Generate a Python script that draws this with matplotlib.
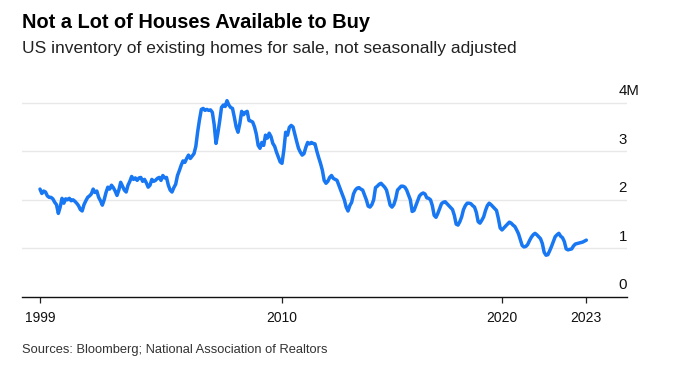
import matplotlib
matplotlib.use("Agg")
import matplotlib.pyplot as plt
import matplotlib.transforms as mtransforms
import numpy as np

# Monthly US inventory of existing homes for sale (millions), Jan 1999 onward
inventory_m = [
    2.22, 2.13, 2.18, 2.16, 2.08, 2.05, 2.05, 2.02, 1.95, 1.90, 1.72, 1.85,  # 1999
    2.03, 1.93, 2.02, 2.00, 2.03, 1.98, 2.00, 1.97, 1.93, 1.88, 1.80, 1.77,  # 2000
    1.90, 1.98, 2.05, 2.08, 2.12, 2.22, 2.15, 2.18, 2.05, 1.98, 1.89, 2.00,  # 2001
    2.15, 2.26, 2.22, 2.30, 2.25, 2.18, 2.09, 2.20, 2.36, 2.28, 2.20, 2.16,  # 2002
    2.30, 2.38, 2.48, 2.42, 2.45, 2.40, 2.45, 2.46, 2.38, 2.42, 2.35, 2.26,  # 2003
    2.30, 2.42, 2.38, 2.40, 2.44, 2.46, 2.40, 2.50, 2.45, 2.46, 2.30, 2.20,  # 2004
    2.16, 2.25, 2.32, 2.50, 2.60, 2.71, 2.80, 2.77, 2.85, 2.92, 2.85, 2.90,  # 2005
    2.95, 3.10, 3.40, 3.65, 3.86, 3.88, 3.84, 3.86, 3.84, 3.85, 3.80, 3.55,  # 2006
    3.16, 3.37, 3.62, 3.90, 3.95, 3.92, 4.04, 3.95, 3.90, 3.88, 3.70, 3.50,  # 2007
    3.39, 3.57, 3.82, 3.75, 3.80, 3.82, 3.63, 3.62, 3.60, 3.50, 3.35, 3.12,  # 2008
    3.06, 3.18, 3.12, 3.33, 3.27, 3.37, 3.30, 3.16, 3.10, 2.98, 2.88, 2.78,  # 2009
    2.75, 3.02, 3.39, 3.33, 3.49, 3.53, 3.50, 3.35, 3.20, 3.06, 2.98, 2.92,  # 2010
    2.95, 3.08, 3.18, 3.15, 3.18, 3.16, 3.15, 3.00, 2.87, 2.75, 2.61, 2.40,  # 2011
    2.34, 2.38, 2.46, 2.50, 2.44, 2.42, 2.40, 2.30, 2.20, 2.10, 2.00, 1.85,  # 2012
    1.77, 1.88, 1.95, 2.12, 2.20, 2.24, 2.25, 2.22, 2.20, 2.10, 2.00, 1.87,  # 2013
    1.85, 1.90, 2.00, 2.25, 2.28, 2.32, 2.34, 2.30, 2.26, 2.20, 2.05, 1.89,  # 2014
    1.85, 1.90, 2.02, 2.20, 2.24, 2.28, 2.28, 2.26, 2.20, 2.10, 2.00, 1.76,  # 2015
    1.78, 1.88, 1.98, 2.08, 2.12, 2.14, 2.12, 2.04, 2.03, 2.00, 1.88, 1.68,  # 2016
    1.64, 1.72, 1.82, 1.92, 1.95, 1.96, 1.92, 1.88, 1.84, 1.80, 1.68, 1.50,  # 2017
    1.48, 1.55, 1.65, 1.80, 1.88, 1.93, 1.93, 1.92, 1.88, 1.85, 1.74, 1.55,  # 2018
    1.52, 1.58, 1.65, 1.78, 1.88, 1.93, 1.90, 1.86, 1.82, 1.78, 1.62, 1.42,  # 2019
    1.38, 1.42, 1.46, 1.50, 1.54, 1.52, 1.48, 1.45, 1.38, 1.30, 1.18, 1.06,  # 2020
    1.03, 1.04, 1.08, 1.16, 1.23, 1.28, 1.31, 1.28, 1.24, 1.20, 1.10, 0.92,  # 2021
    0.86, 0.87, 0.95, 1.04, 1.14, 1.24, 1.28, 1.31, 1.25, 1.22, 1.14, 0.99,  # 2022
    0.97, 0.98, 0.99, 1.05, 1.09, 1.10, 1.11, 1.12, 1.13, 1.15, 1.17,        # 2023
]
start_year = 1999

x_tick_years = [1999, 2010, 2020]
x_tick_labels = ["1999", "2010", "2020", "2023"]
y_ticks = [0, 1, 2, 3, 4]
y_labels = ["0", "1", "2", "3", "4M"]

LINE_COLOR = "#1877f2"
GRID_COLOR = "#e8e8e8"

plt.rcParams["font.family"] = ["Liberation Sans", "DejaVu Sans"]

t = start_year + np.arange(len(inventory_m)) / 12.0

W, H = 673, 373
fig = plt.figure(figsize=(W / 100, H / 100), dpi=100)
ax = fig.add_axes([22 / W, (H - 297) / H, (627 - 22) / W, (297 - 80) / H])

ax.plot(t, inventory_m, color=LINE_COLOR, lw=2.5, solid_joinstyle="round",
        solid_capstyle="round", zorder=3)

ax.set_xlim(start_year - 18 / 22, start_year + 587 / 22)
ax.set_ylim(0, (297 - 80) / 48.6)

# horizontal gridlines (no grid at zero, the axis line covers it)
for v in y_ticks[1:]:
    ax.axhline(v, color=GRID_COLOR, lw=1.0, zorder=1)

# y labels sit just above their gridline, at the right edge
ylab_tf = mtransforms.blended_transform_factory(ax.transAxes, ax.transData)
for v, lab in zip(y_ticks, y_labels):
    ax.annotate(lab, xy=(1.0, v), xycoords=ylab_tf, xytext=(-6, 5.5),
                textcoords="offset points", ha="left", va="baseline",
                fontsize=10.8, color="#111111")

ax.set_yticks([])
ax.set_xticks(x_tick_years + [t[-1]])
ax.set_xticklabels(x_tick_labels)
ax.tick_params(axis="x", length=4, width=0.9, color="#222222", pad=6,
               labelsize=10, labelcolor="#111111")

for side in ("top", "right", "left"):
    ax.spines[side].set_visible(False)
ax.spines["bottom"].set_linewidth(1.0)
ax.spines["bottom"].set_color("#111111")
ax.set_facecolor("none")

fig.text(22 / W, 1 - 27.5 / H, "Not a Lot of Houses Available to Buy",
         fontsize=14.4, fontweight="bold", va="baseline", ha="left")
fig.text(22 / W, 1 - 52.5 / H,
         "US inventory of existing homes for sale, not seasonally adjusted",
         fontsize=12.5, va="baseline", ha="left", color="#222222")
fig.text(22 / W, 1 - 352.5 / H,
         "Sources: Bloomberg; National Association of Realtors",
         fontsize=9.3, va="baseline", ha="left", color="#333333")

fig.savefig("out.png", dpi=100)
